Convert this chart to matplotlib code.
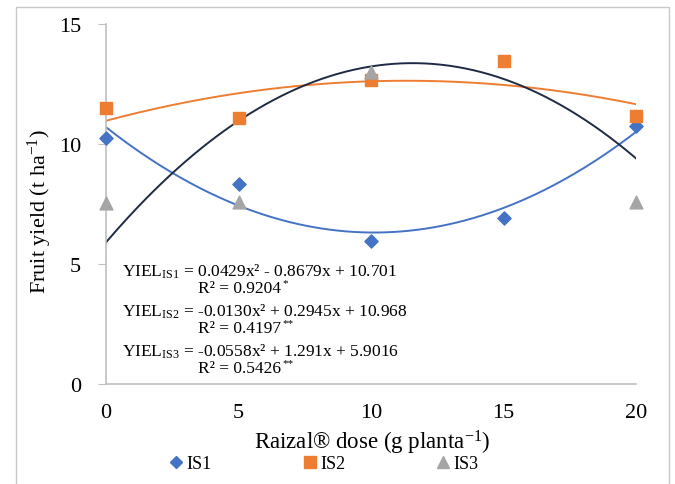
import numpy as np
import matplotlib
matplotlib.use("Agg")
import matplotlib.pyplot as plt
from matplotlib.patches import Rectangle
from matplotlib.lines import Line2D

plt.rcParams['font.family'] = ['Liberation Serif', 'DejaVu Serif']
plt.rcParams['mathtext.fontset'] = 'custom'
plt.rcParams['mathtext.rm'] = 'Liberation Serif'
plt.rcParams['mathtext.it'] = 'Liberation Serif'

# doses and yields
dose = [0, 5, 10, 15, 20]
is1 = [10.25, 8.35, 5.95, 6.9, 10.75]
is2 = [11.5, 11.1, 12.65, 13.45, 11.15]
is3 = [7.55, 7.6, 13.0, np.nan, 7.6]

# quadratic fits (a, b, c) for a*x^2 + b*x + c
fit1 = (0.0429, -0.8679, 10.701)
fit2 = (-0.0130, 0.2945, 10.968)
fit3 = (-0.0558, 1.291, 5.9016)
r2 = ["0.9204", "0.4197", "0.5426"]
stars = ["*", "**", "**"]

c_blue = "#4472C4"
c_orange = "#ED7D31"
c_gray = "#A5A5A5"
c_dark = "#1F2A44"

W, H = 675, 485
fig = plt.figure(figsize=(6.75, 4.85), dpi=100)
fig.patches.append(Rectangle((16 / W, -0.05), (669 - 16) / W, 1.05 - 8 / H,
                             transform=fig.transFigure, fill=False,
                             edgecolor="#C8C8C8", linewidth=1.0))

ax = fig.add_axes([106 / W, 1 - 385 / H, 530 / W, 360 / H])

xs = np.linspace(0, 20, 200)
for fit, col in [(fit1, c_blue), (fit2, c_orange), (fit3, c_dark)]:
    a, b, c = fit
    ax.plot(xs, a * xs ** 2 + b * xs + c, color=col, lw=1.4, zorder=2)

ax.scatter(dose, is1, marker="D", s=45, color=c_blue, zorder=3, clip_on=False)
ax.scatter(dose, is2, marker="s", s=80, color=c_orange, zorder=3, clip_on=False)
ax.scatter(dose, is3, marker="^", s=85, color=c_gray, zorder=3, clip_on=False)

ax.set_xlim(0, 20)
ax.set_ylim(0, 15)
ax.set_xticks(dose)
ax.set_yticks([0, 5, 10, 15])
for s in ["top", "right"]:
    ax.spines[s].set_visible(False)
for s in ["left", "bottom"]:
    ax.spines[s].set_color("#BFBFBF")
    ax.spines[s].set_linewidth(1.2)
ax.tick_params(axis="y", length=6, color="#BFBFBF", labelsize=16, pad=12)
ax.tick_params(axis="x", length=0, labelsize=16, pad=14)

fig.text(40 / W, 1 - 212 / H, "Fruit yield (t ha$^{-1}$)", fontsize=16,
         rotation=90, ha="center", va="center")
fig.text(372 / W, 1 - 443 / H, "Raizal® dose (g planta$^{-1}$)", fontsize=16.5,
         ha="center", va="center")

# fitted equations
def fmt(v, d):
    return f"{abs(v):.{d}f}"

eqs = []
for i, (a, b, c) in enumerate([fit1, fit2, fit3]):
    sa = "-" if a < 0 else ""
    sb = "-" if b < 0 else "+"
    db = 3 if i == 2 else 4
    dc = 4 if i == 2 else 3
    eqs.append(f"YIEL$_{{\\mathrm{{IS{i + 1}}}}}$ = {sa}{fmt(a, 4)}x² {sb} {fmt(b, db)}x + {fmt(c, dc)}")

ty = [272, 312, 352]
r2_texts = []
for i in range(3):
    fig.text(122 / W, 1 - ty[i] / H, eqs[i], fontsize=12.5, ha="left", va="center")
    t = fig.text(240 / W, 1 - (ty[i] + 17) / H, f"R² = {r2[i]}",
                 fontsize=12.5, ha="center", va="center")
    r2_texts.append(t)

# significance stars just after each R² value
fig.canvas.draw()
for t, st in zip(r2_texts, stars):
    bb = t.get_window_extent()
    fig.text((bb.x1 + 1) / W, (bb.y1 + 2) / H, st, fontsize=8, ha="left", va="top")

handles = [
    Line2D([], [], marker="D", color=c_blue, ls="none", ms=6),
    Line2D([], [], marker="s", color=c_orange, ls="none", ms=8),
    Line2D([], [], marker="^", color=c_gray, ls="none", ms=8),
]
fig.legend(handles, ["IS1", "IS2", "IS3"], loc="center", ncol=3,
           bbox_to_anchor=(322 / W, 1 - 465 / H), frameon=False,
           fontsize=13, handletextpad=0.0, columnspacing=4.8, handlelength=1.2,
           borderpad=0.1)

fig.savefig("out.png", dpi=100)
